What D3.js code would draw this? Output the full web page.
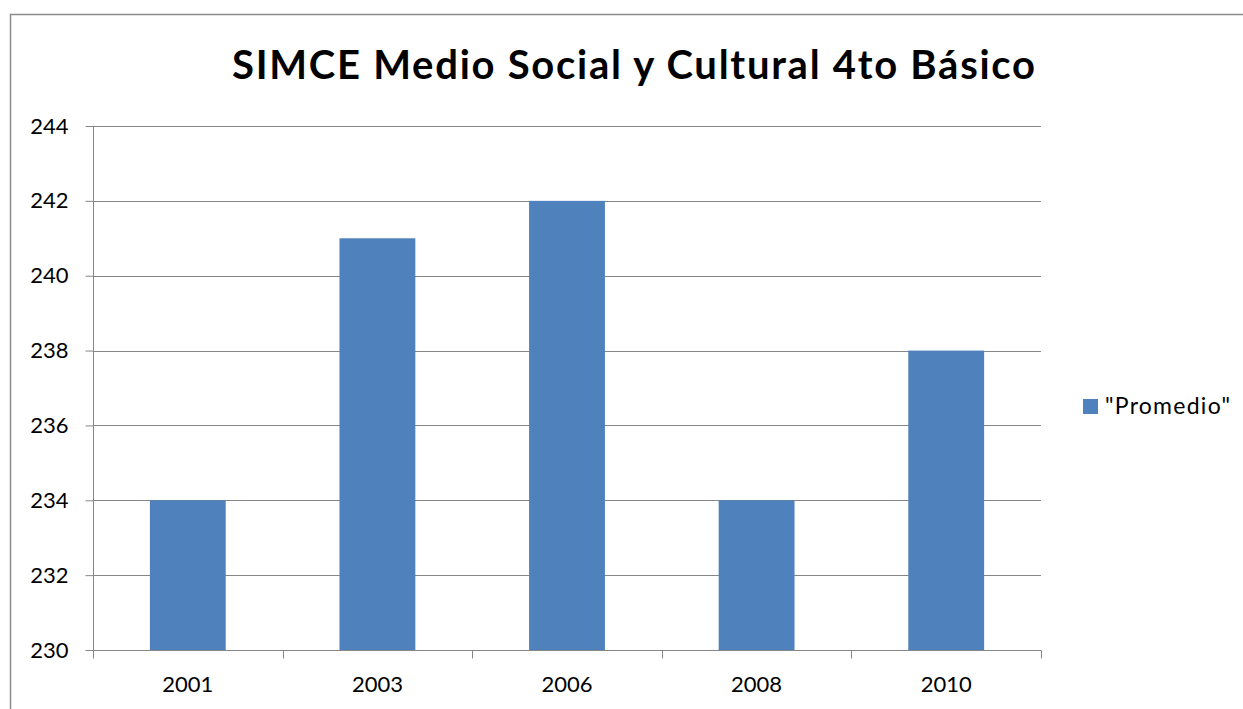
<!DOCTYPE html>
<html>
<head>
<meta charset="utf-8">
<script src="https://cdn.jsdelivr.net/npm/d3@7"></script>
<style>
  html, body { margin: 0; padding: 0; background: #fff; }
  text { font-family: Lato, "Open Sans", "Liberation Sans", sans-serif; fill: #000; }
</style>
</head>
<body>
<div id="chart"></div>
<script>
// datos
const YEARS  = ['2001', '2003', '2006', '2008', '2010'];
const VALUES = [234, 241, 242, 234, 238];
const Y_TICKS = [230, 232, 234, 236, 238, 240, 242, 244];
const TITLE  = 'SIMCE Medio Social y Cultural 4to Básico';
const SERIES = '"Promedio"';

const W = 1243, H = 709;
const plot = { left: 93, right: 1041, top: 126, bottom: 650 };
const BAR = '#4F81BD', GRID = '#868686';
const FONT = 'Lato, "Open Sans", sans-serif';

const svg = d3.select('#chart').append('svg')
  .attr('width', W).attr('height', H);

// marco del área de gráfico (sale por la derecha y abajo)
svg.append('path')
  .attr('d', `M10.5,${H + 5} V14.5 H${W + 5}`)
  .attr('fill', 'none').attr('stroke', '#8c8c8c').attr('stroke-width', 1.5);

const x = d3.scaleBand(YEARS, [plot.left, plot.right]).paddingInner(0.6).paddingOuter(0.3);
const xb = d3.scaleBand(YEARS, [plot.left, plot.right]);
const y = d3.scaleLinear([230, 244], [plot.bottom, plot.top]);

// rejilla horizontal
svg.append('g')
  .selectAll('line')
  .data(Y_TICKS.slice(1))
  .join('line')
    .attr('x1', plot.left).attr('x2', plot.right)
    .attr('y1', d => Math.round(y(d)) + 0.5).attr('y2', d => Math.round(y(d)) + 0.5)
    .attr('stroke', GRID).attr('stroke-width', 1);

// barras
svg.append('g')
  .selectAll('rect')
  .data(VALUES)
  .join('rect')
    .attr('x', (d, i) => x(YEARS[i]))
    .attr('width', x.bandwidth())
    .attr('y', d => y(d))
    .attr('height', d => y(230) - y(d))
    .attr('fill', BAR);

// eje Y
const yAxis = d3.axisLeft(y).tickValues(Y_TICKS).tickSize(8).tickPadding(17);
svg.append('g')
  .attr('transform', `translate(${plot.left + 0.5},0)`)
  .call(yAxis)
  .call(g => g.select('.domain').attr('stroke', GRID).attr('d', `M0,${plot.top}V${plot.bottom}`))
  .call(g => g.selectAll('.tick line').attr('stroke', GRID))
  .call(g => g.selectAll('.tick text')
    .attr('font-size', 22).attr('fill', '#000')
    .style('font-family', FONT));

// eje X
const xAxis = d3.axisBottom(xb).tickSize(0).tickPadding(26);
const gx = svg.append('g')
  .attr('transform', `translate(0,${plot.bottom + 0.5})`)
  .call(xAxis)
  .call(g => g.select('.domain').attr('stroke', GRID).attr('d', `M${plot.left},0H${plot.right}`))
  .call(g => g.selectAll('.tick text')
    .attr('font-size', 22).attr('fill', '#000')
    .attr('dy', '0.71em')
    .style('font-family', FONT));

// marcas entre categorías
gx.append('g')
  .selectAll('line')
  .data(d3.range(YEARS.length + 1))
  .join('line')
    .attr('x1', i => Math.round(plot.left + i * xb.step()) + 0.5)
    .attr('x2', i => Math.round(plot.left + i * xb.step()) + 0.5)
    .attr('y1', 0).attr('y2', 8)
    .attr('stroke', GRID);

// título
svg.append('text')
  .attr('x', 232).attr('y', 79)
  .attr('font-size', 40).attr('font-weight', 'bold')
  .attr('textLength', 803).attr('lengthAdjust', 'spacing')
  .text(TITLE);

// leyenda
svg.append('rect')
  .attr('x', 1083).attr('y', 399).attr('width', 15).attr('height', 15)
  .attr('fill', BAR);
svg.append('text')
  .attr('x', 1105).attr('y', 414)
  .attr('font-size', 23)
  .attr('textLength', 125).attr('lengthAdjust', 'spacing')
  .text(SERIES);
</script>
</body>
</html>
